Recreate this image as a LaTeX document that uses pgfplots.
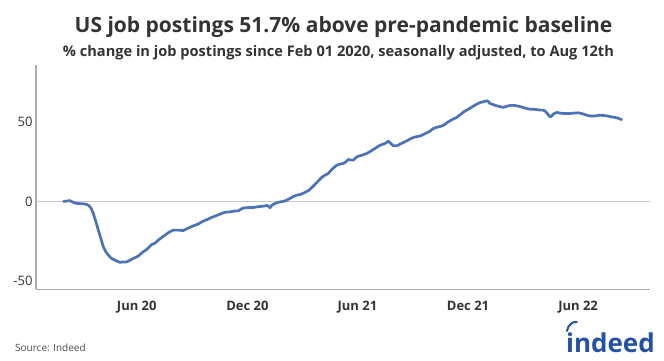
\documentclass[border=0pt]{standalone}
\usepackage{fontspec}
\setmainfont{Open Sans}
\usepackage{pgfplots}
\pgfplotsset{compat=1.18}
\definecolor{linec}{HTML}{4C72B8}
\definecolor{axisgray}{HTML}{AAAAAA}
\definecolor{txt}{HTML}{333333}
\definecolor{indeedblue}{HTML}{2451A6}
\begin{document}
\begin{tikzpicture}[x=1pt,y=1pt]
\useasboundingbox (0pt,0pt) rectangle (664pt,360pt);
\begin{axis}[
  at={(36pt,70.7pt)}, anchor=south west,
  scale only axis, width=614pt, height=224.3pt,
  xmin=-45.7, xmax=970, ymin=-55.5, ymax=86.2,
  axis x line=bottom, axis y line=left,
  axis line style={axisgray, line width=1.3pt, -},
  xtick={121,304,486,669,851},
  xticklabels={Jun 20, Dec 20, Jun 21, Dec 21, Jun 22},
  xticklabel style={font=\fontsize{13}{15}\selectfont\bfseries, text=txt, yshift=-8.5pt},
  ytick={-50,0,50},
  yticklabel style={font=\fontsize{13}{15}\selectfont, text=txt},
  /pgf/number format/assume math mode=true,
  major tick length=0pt,
  extra y ticks={0}, extra y tick labels={},
  extra y tick style={grid=major, major grid style={black!22, line width=0.9pt}},
]
\addplot[linec, line width=2.7pt, line join=round, line cap=round] coordinates {
(0,0.0) (10.6,0.5) (18.9,-1.1) (27,-1.4) (35.4,-1.6) (40.9,-2.3) (45.3,-4.2) (49.1,-7.6)
(53.6,-13.1) (57.4,-18.1) (61.9,-23.8) (65.7,-28.7) (70.1,-32.0) (74,-33.9) (78.4,-35.8)
(85,-37.1) (93.3,-38.5) (98.3,-38.2) (104.4,-38.2) (109.8,-37.1) (115.3,-36.0) (123,-34.6)
(131.8,-31.8) (138,-30.1) (145.7,-27.2) (151.2,-26.3) (156.7,-24.4) (162.8,-22.6) (167.7,-21.3)
(174.4,-19.4) (181.5,-18.1) (189.2,-18.1) (198,-18.4) (205.8,-16.9) (214.6,-15.4) (222.3,-14.3)
(231.1,-12.4) (238.9,-11.2) (245,-10.1) (252.1,-9.0) (258.7,-8.0) (267,-6.8) (275.3,-6.6)
(281.9,-6.1) (289,-5.9) (295.1,-4.5) (300,-4.0) (308.4,-3.8) (313.8,-3.8) (321.6,-3.3)
(330.4,-3.0) (336,-2.5) (339,-3.0) (341.4,-4.0) (344.7,-2.3) (349.7,-1.3) (356.3,-0.4)
(363.4,0.0) (368.7,0.8) (374.5,1.9) (379.5,3.0) (385.6,4.0) (391,4.3) (399.3,5.7) (406,7.1)
(413,9.7) (419.2,12.2) (427,15.2) (432.4,16.6) (437.9,17.7) (444,20.4) (451.8,22.9) (457.2,23.6)
(462.7,24.0) (467.2,25.1) (471,26.5) (475.4,26.1) (479.2,26.1) (483.7,27.7) (487.5,28.6)
(493.6,29.2) (501.4,30.3) (506.9,31.5) (512.3,32.8) (518.4,34.3) (523.4,35.5) (531.7,36.6)
(537.1,38.1) (540.8,36.8) (545.4,35.1) (551.5,35.2) (556.5,36.2) (561.5,37.1) (567.6,38.3)
(573,39.4) (578.5,40.4) (583,40.9) (589.6,41.3) (594.5,42.2) (600.7,43.3) (606.1,44.4)
(611.6,46.1) (617.7,46.9) (625.5,47.6) (631,48.8) (636.4,50.3) (642.5,51.7) (650.3,53.1)
(654.1,54.2) (658.6,55.6) (662.4,56.7) (666.8,57.7) (672.3,58.9) (677.7,60.2) (683.8,61.5)
(688.8,62.5) (693.7,62.9) (699.9,63.6) (702.8,63.0) (705.3,61.9) (710.3,61.2) (716.4,60.4)
(721.9,59.9) (727.3,59.4) (733.4,60.2) (741.2,60.8) (746.6,60.6) (752.1,60.2) (758.2,59.6)
(766,58.7) (771.5,58.3) (776.9,58.3) (783.1,58.0) (788,57.7) (793,57.7) (796.3,57.2)
(799.6,55.8) (804.6,53.4) (807.9,54.2) (811.2,55.5) (815.7,56.2) (821.2,55.8) (826.6,55.6)
(832.7,55.6) (837.7,55.6) (844.3,55.8) (851.4,56.0) (857.5,55.5) (865.3,54.5) (870.8,54.0)
(876.2,53.9) (882.4,54.2) (887.3,54.5) (892.3,54.3) (898.4,54.1) (903.9,53.6) (912.1,53.1)
(917.1,52.6) (923,51.7)
};
\end{axis}
\node[anchor=base, font=\fontsize{21}{25}\selectfont\bfseries, text=txt] at (343.5pt,328pt) {US job postings 51.7\% above pre-pandemic baseline};
\node[anchor=base, font=\fontsize{14.6}{17}\selectfont\bfseries, text=txt] at (338.4pt,303.3pt) {\% change in job postings since Feb 01 2020, seasonally adjusted, to Aug 12th};
\node[anchor=base west, font=\fontsize{10}{12}\selectfont, text=black!70, inner sep=0pt] at (15pt,9pt) {Source: Indeed};
\node[anchor=base east, font=\fontsize{26}{30}\selectfont\bfseries, text=indeedblue, inner sep=0pt] (logo) at (655pt,8pt) {indeed};
\draw[indeedblue, line width=2pt, line cap=round] ([xshift=1pt,yshift=21pt]logo.base west) .. controls +(1pt,6pt) and +(-4pt,1pt) .. +(10pt,9pt);
\end{tikzpicture}
\end{document}
